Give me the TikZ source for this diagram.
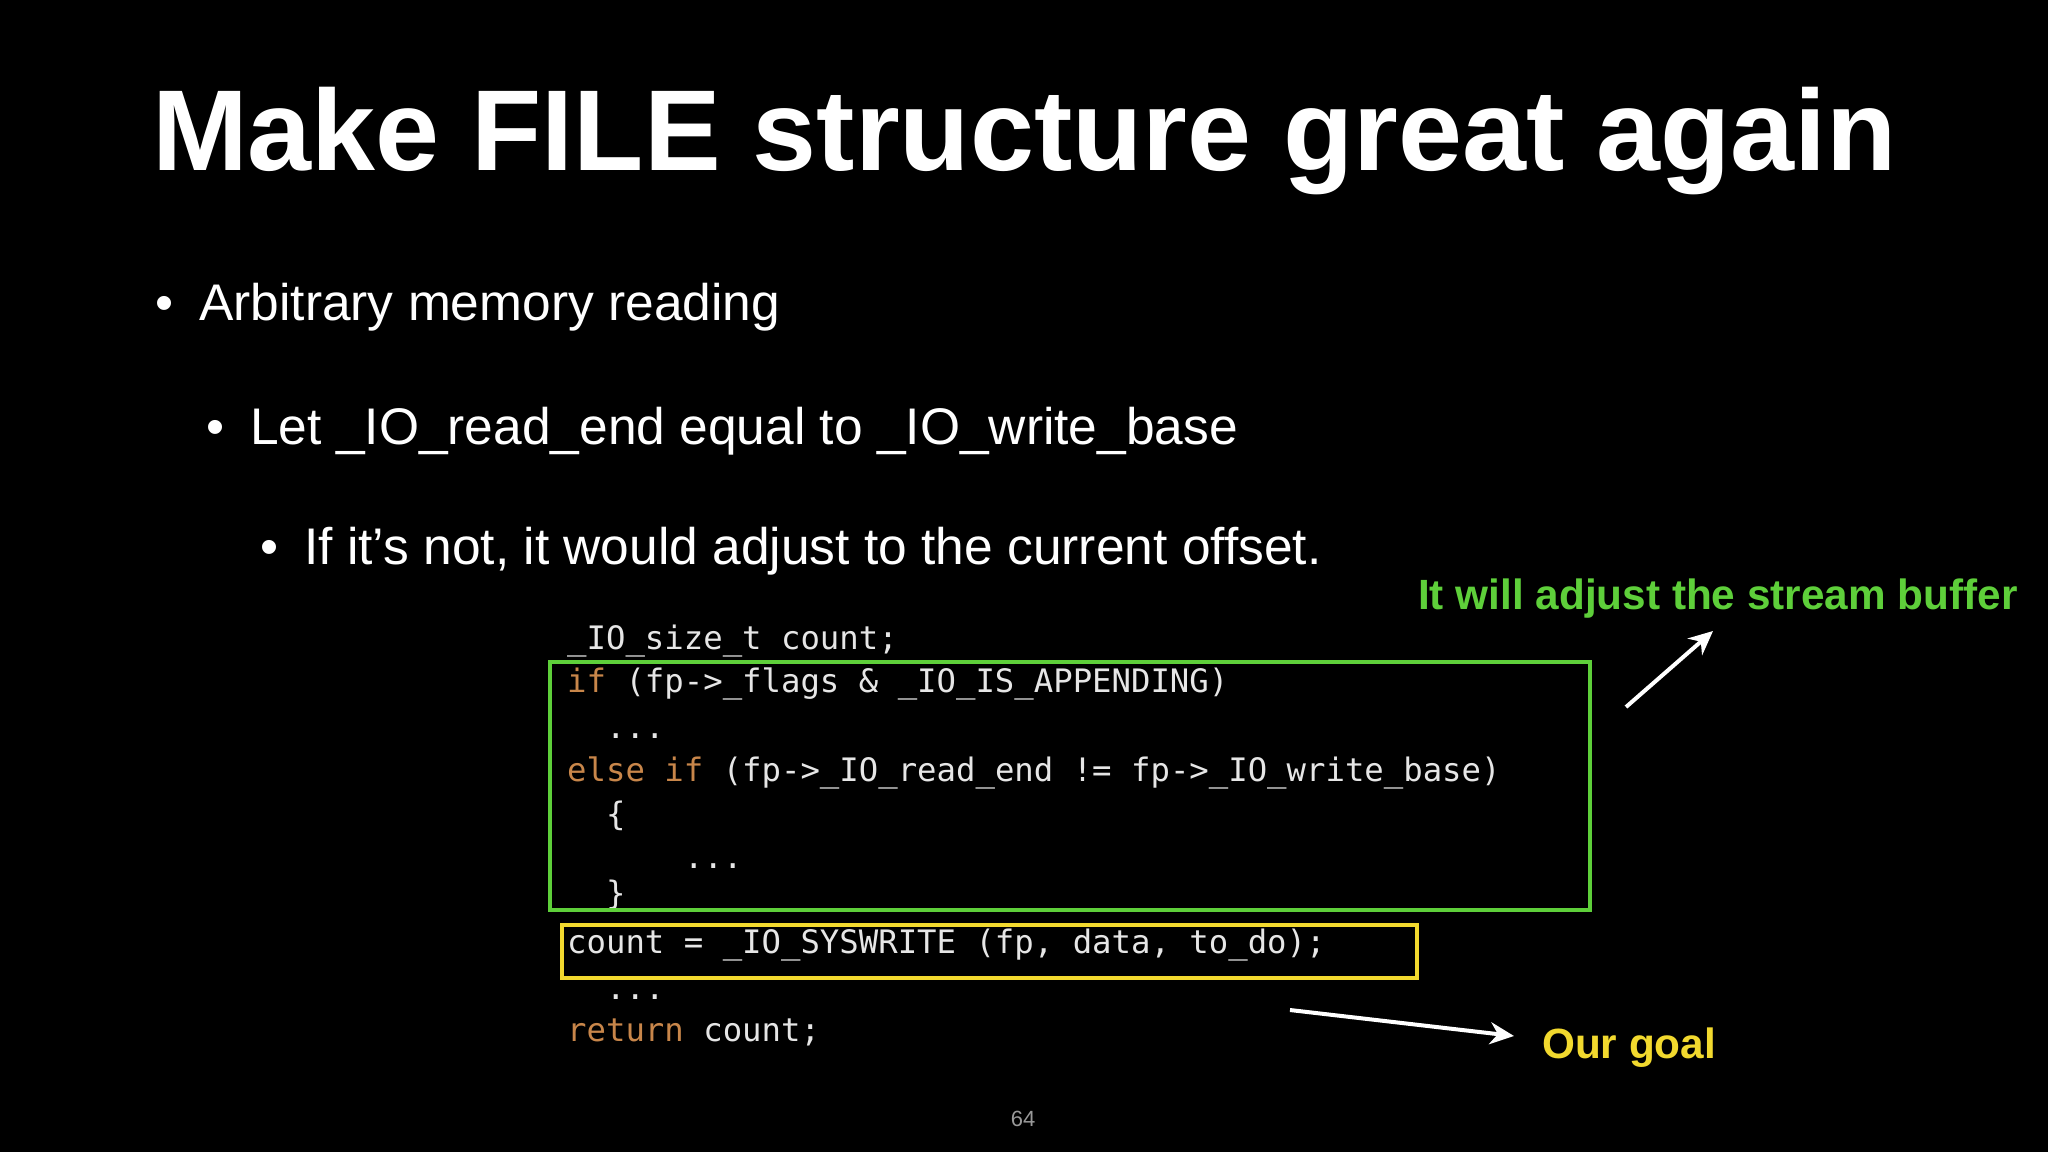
\documentclass[tikz,border=0pt]{standalone}
\usepackage{fontspec}
\usetikzlibrary{arrows.meta}
\setmainfont{Liberation Sans}
\setmonofont{DejaVu Sans Mono}
\definecolor{kw}{HTML}{C8864A}
\definecolor{codec}{HTML}{E6E6E6}
\definecolor{gr}{HTML}{5ECF3A}
\definecolor{yl}{HTML}{F2D92E}
\begin{document}
\begin{tikzpicture}[x=1pt,y=-1pt,
  txt/.style={anchor=base west,inner sep=0pt,text=white},
  code/.style={anchor=base west,inner sep=0pt,text=codec,font=\ttfamily\fontsize{32.3}{32}\selectfont},
  hand/.style={white,line width=4pt,-{Stealth[length=24pt,width=22pt]}}]
\fill[black] (0,0) rectangle (2048,1152);
\useasboundingbox (0,0) rectangle (2048,1152);
\node[txt,font=\bfseries\fontsize{115}{115}\selectfont] (title) at (152,170) {Make FILE structure great again};
\node[txt,font=\fontsize{51.5}{52}\selectfont] (b1) at (155,320) {•\hspace{26pt}Arbitrary memory reading};
\node[txt,font=\fontsize{51.5}{52}\selectfont] (b2) at (206,444) {•\hspace{26pt}Let \_IO\_read\_end equal to \_IO\_write\_base};
\node[txt,font=\fontsize{51.5}{52}\selectfont] (b3) at (260,564) {•\hspace{26pt}If it’s not, it would adjust to the current offset.};
\node[code] (c1) at (567,649) {\_IO\_size\_t count;};
\node[code] (c2) at (567,692) {\textcolor{kw}{if} (fp->\_flags \& \_IO\_IS\_APPENDING)};
\node[code] (c3) at (606,738) {...};
\node[code] (c4) at (567,781) {\textcolor{kw}{else if} (fp->\_IO\_read\_end != fp->\_IO\_write\_base)};
\node[code] (c5) at (606,825) {\{};
\node[code] (c6) at (684,868) {...};
\node[code] (c7) at (606,904) {\}};
\node[code] (c8) at (567,953) {count = \_IO\_SYSWRITE (fp, data, to\_do);};
\node[code] (c9) at (606,999) {...};
\node[code] (c10) at (567,1041) {\textcolor{kw}{return} count;};
\draw[gr,line width=4pt] (550,662) rectangle (1590,910);
\draw[yl,line width=4pt] (562,925) rectangle (1417,978);
\node[txt,text=gr,font=\bfseries\fontsize{42.3}{42}\selectfont] (g) at (1418,609) {It will adjust the stream buffer};
\node[txt,text=yl,font=\bfseries\fontsize{42.3}{42}\selectfont] (goal) at (1542,1058) {Our goal};
\coordinate (a1s) at (1626,707); \coordinate (a1e) at (1713,631);
\coordinate (a2s) at (1290,1010); \coordinate (a2e) at (1514,1036);
\draw[hand] (a1s) -- (a1e);
\draw[hand] (a2s) -- (a2e);
\node[text=gray!80,font=\fontsize{22}{22}\selectfont] (pg) at (1023,1119) {64};
\end{tikzpicture}
\end{document}
